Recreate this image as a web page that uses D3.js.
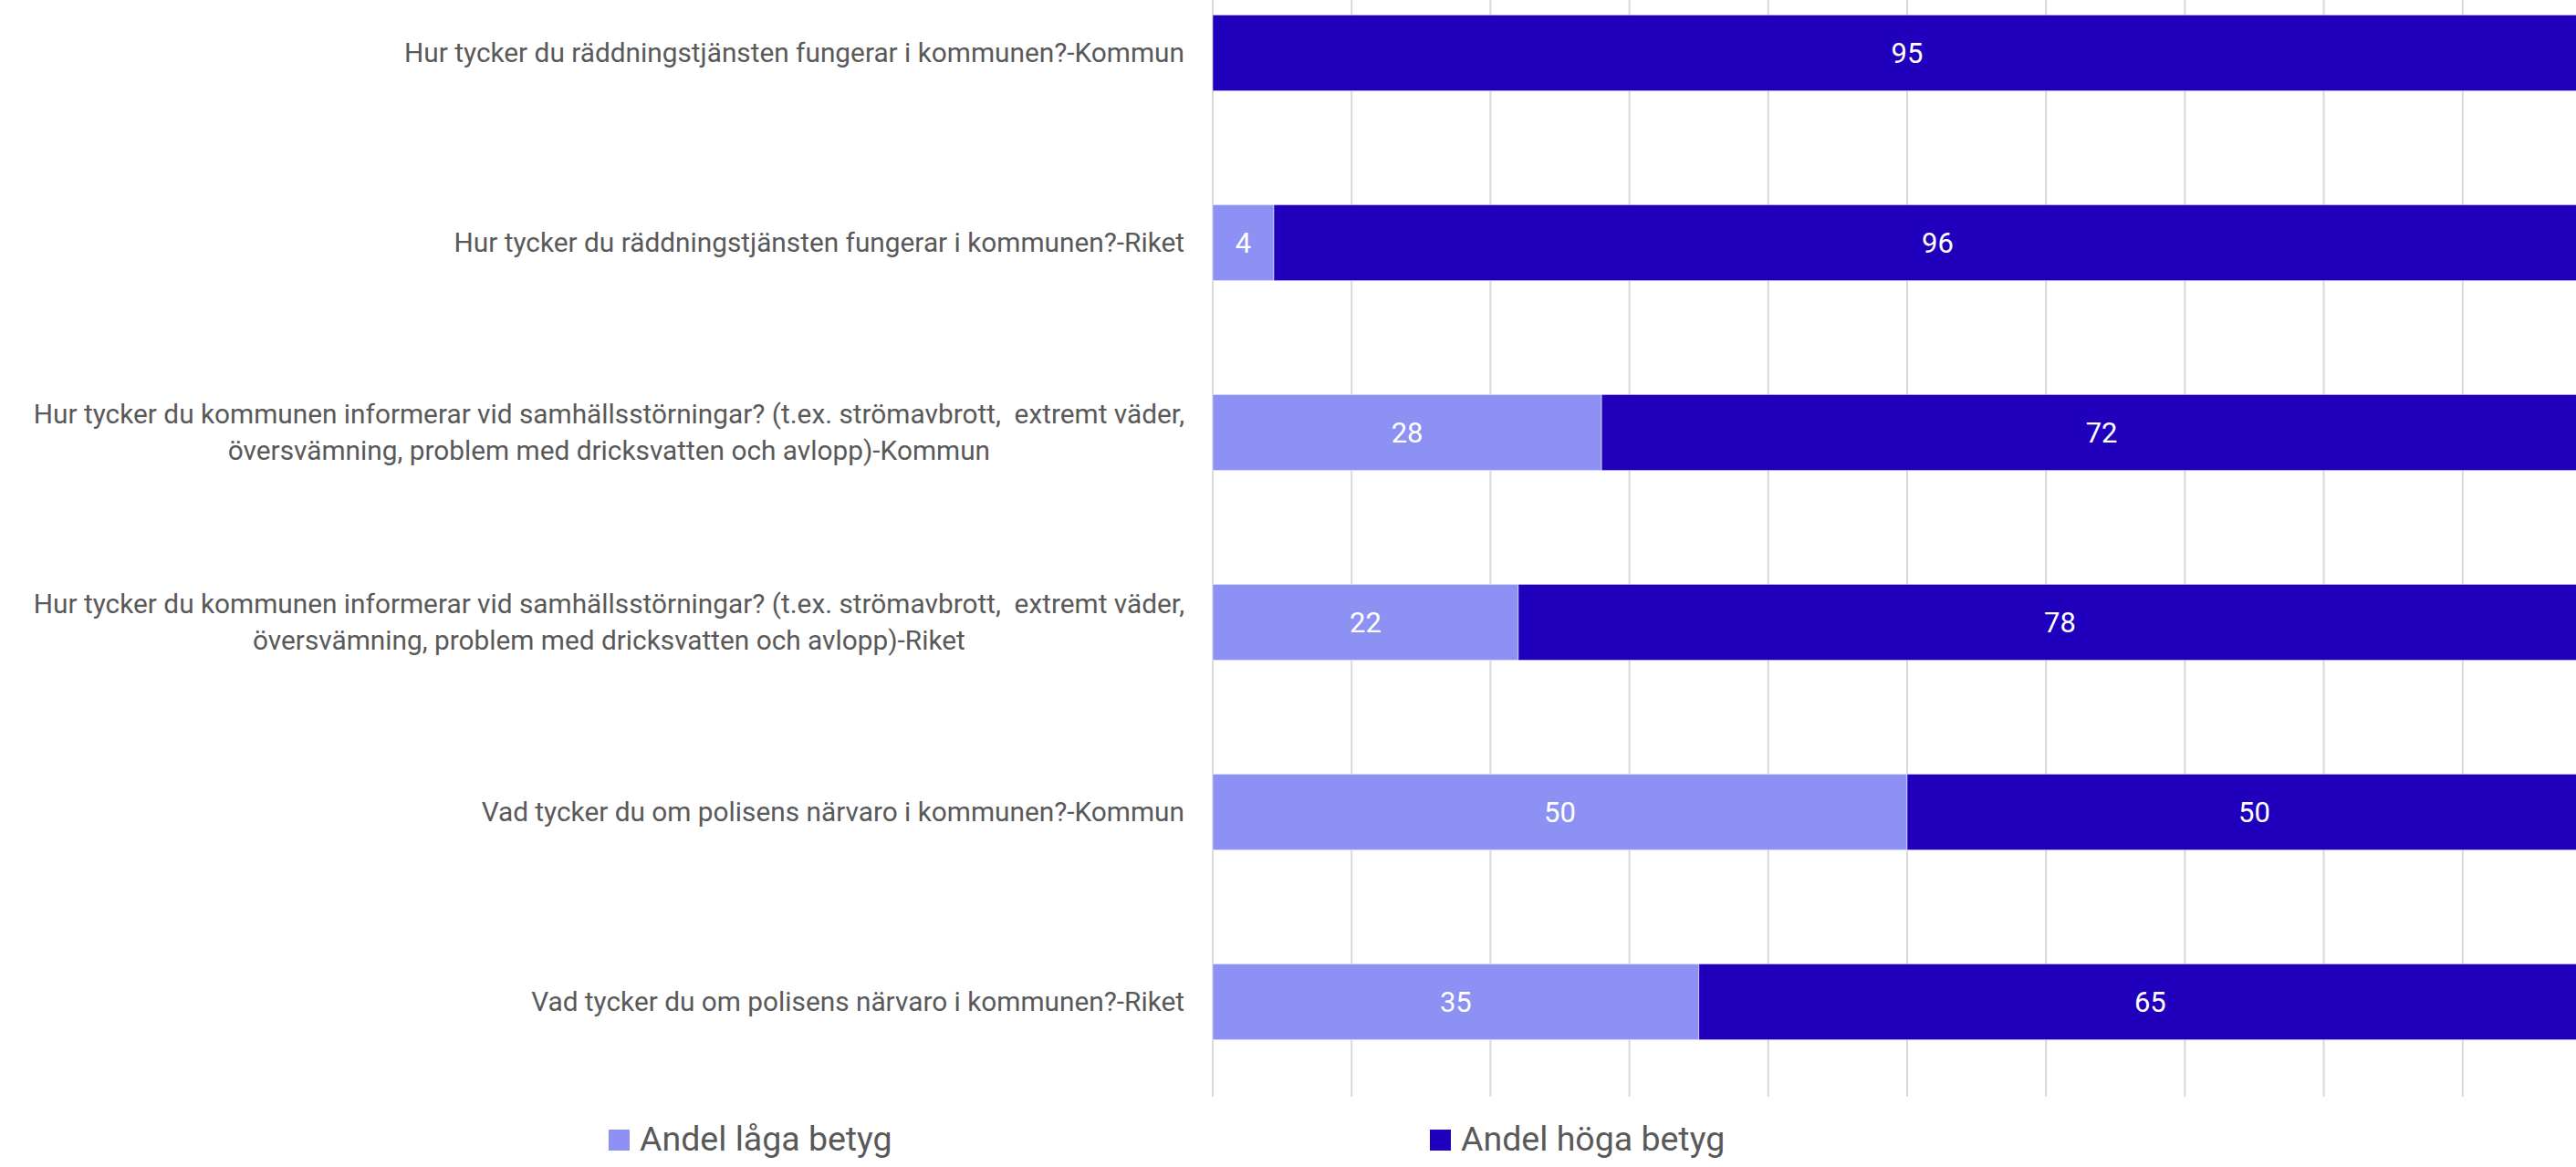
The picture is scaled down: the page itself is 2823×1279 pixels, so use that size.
<!DOCTYPE html>
<html>
<head>
<meta charset="utf-8">
<script src="https://d3js.org/d3.v7.min.js"></script>
<style>
body { margin: 0; background: #fff; overflow: hidden; }
text { font-family: Roboto, "Noto Sans", sans-serif; }
</style>
</head>
<body>
<script>
// questions, top to bottom (lines split as in the original)
var questions = [
	["Hur tycker du räddningstjänsten fungerar i kommunen?-Kommun"],
	["Hur tycker du räddningstjänsten fungerar i kommunen?-Riket"],
	["Hur tycker du kommunen informerar vid samhällsstörningar? (t.ex. strömavbrott,  extremt väder,", "översvämning, problem med dricksvatten och avlopp)-Kommun"],
	["Hur tycker du kommunen informerar vid samhällsstörningar? (t.ex. strömavbrott,  extremt väder,", "översvämning, problem med dricksvatten och avlopp)-Riket"],
	["Vad tycker du om polisens närvaro i kommunen?-Kommun"],
	["Vad tycker du om polisens närvaro i kommunen?-Riket"]
];
var lowGrades  = [0, 4.4, 28, 22, 50, 35];
var highGrades = [95, 95.6, 72, 78, 50, 65];
var seriesNames = ["Andel låga betyg", "Andel höga betyg"];
var seriesColors = ["#8c91f3", "#2000bd"];
var gridTicks = [0, 10, 20, 30, 40, 50, 60, 70, 80, 90, 100];

var width = 2823, height = 1279;
var plotLeft = 1329, plotRight = 2851, plotTop = -46, plotBottom = 1202;

var rows = questions.map(function(q, i) {
	return { id: i, low: lowGrades[i], high: highGrades[i] };
});

var svg = d3.select("body").append("svg")
	.attr("width", width)
	.attr("height", height);

var x = d3.scaleLinear().domain([0, 100]).range([plotLeft, plotRight]);
var y = d3.scaleBand()
	.domain(rows.map(function(d) { return d.id; }))
	.range([plotTop, plotBottom])
	.paddingInner(0.6)
	.paddingOuter(0.3);

// vertical gridlines
svg.append("g")
	.selectAll("line")
	.data(gridTicks)
	.enter()
	.append("line")
		.attr("x1", function(d) { return x(d); })
		.attr("x2", function(d) { return x(d); })
		.attr("y1", 0)
		.attr("y2", plotBottom)
		.attr("stroke", "#d9d9d9")
		.attr("stroke-width", 2);

// 100% stacked bars
var stack = d3.stack().keys(["low", "high"]).offset(d3.stackOffsetExpand);
var series = stack(rows);

var groups = svg.append("g")
	.selectAll("g")
	.data(series)
	.enter()
	.append("g")
		.attr("fill", function(d, i) { return seriesColors[i]; });

groups.selectAll("rect")
	.data(function(d) { return d; })
	.enter()
	.append("rect")
		.attr("x", function(d) { return x(d[0] * 100); })
		.attr("width", function(d) { return x(d[1] * 100) - x(d[0] * 100); })
		.attr("y", function(d) { return y(d.data.id); })
		.attr("height", y.bandwidth())
		.attr("stroke", "#fff")
		.attr("stroke-opacity", 0.5)
		.attr("stroke-width", 1);

groups.selectAll("text")
	.data(function(d) {
		return d.filter(function(p) { return p.data[d.key] > 0; })
			.map(function(p) { return { p: p, key: d.key }; });
	})
	.enter()
	.append("text")
		.attr("x", function(d) { return (x(d.p[0] * 100) + x(d.p[1] * 100)) / 2; })
		.attr("y", function(d) { return y(d.p.data.id) + y.bandwidth() / 2; })
		.attr("dy", "0.35em")
		.attr("text-anchor", "middle")
		.attr("fill", "#fff")
		.attr("font-size", 31)
		.text(function(d) { return Math.round(d.p.data[d.key]); });

// category labels: block right-aligned to the axis, lines centred within it
var labelRight = 1298, lineHeight = 40;
var labels = svg.append("g")
	.selectAll("text")
	.data(rows)
	.enter()
	.append("text")
		.attr("font-size", 29.8)
		.attr("fill", "#595959")
		.attr("text-anchor", "middle")
		.style("white-space", "pre");

labels.each(function(d) {
	var t = d3.select(this);
	var lines = questions[d.id];
	var cy = y(d.id) + y.bandwidth() / 2;
	lines.forEach(function(line, j) {
		t.append("tspan")
			.attr("y", cy + (j - (lines.length - 1) / 2) * lineHeight)
			.attr("dy", "0.35em")
			.text(line);
	});
	var maxW = 0;
	t.selectAll("tspan").each(function() {
		maxW = Math.max(maxW, this.getComputedTextLength());
	});
	t.selectAll("tspan").attr("x", labelRight - maxW / 2);
});

// legend
var legendX = [667, 1567];
var legend = svg.append("g")
	.selectAll("g")
	.data(seriesNames)
	.enter()
	.append("g")
		.attr("transform", function(d, i) { return "translate(" + legendX[i] + ",1238)"; });

legend.append("rect")
	.attr("width", 23)
	.attr("height", 23)
	.attr("fill", function(d, i) { return seriesColors[i]; });

legend.append("text")
	.attr("x", 34)
	.attr("y", 23)
	.attr("font-size", 37.5)
	.attr("fill", "#595959")
	.text(function(d) { return d; });
</script>
</body>
</html>
